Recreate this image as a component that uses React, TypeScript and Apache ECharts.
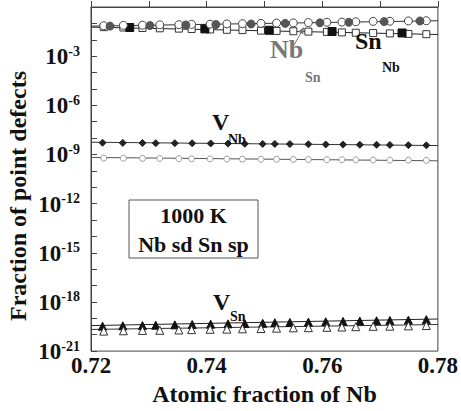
import React, { useEffect, useRef } from 'react';
import * as echarts from 'echarts';

// x positions (atomic fraction of Nb)
const X_OPEN = [0.7222, 0.7256, 0.7289, 0.7319, 0.7352, 0.7374, 0.7406, 0.7435, 0.7462, 0.7494, 0.7521, 0.755, 0.7576, 0.7608, 0.7634, 0.7658, 0.7688, 0.7717, 0.7749, 0.778];
const X_FILLED = [0.722, 0.7255, 0.7289, 0.7312, 0.7345, 0.7375, 0.7407, 0.7437, 0.7466, 0.7497, 0.7518, 0.7544, 0.7576, 0.7606, 0.7636, 0.7665, 0.7694, 0.7717, 0.7749, 0.778];
const X_FILLED_CIRCLES = [0.7233, 0.7302, 0.7364, 0.7416, 0.7477, 0.7536, 0.7596, 0.7646, 0.7707, 0.7769];
const X_FILLED_SQUARES = [0.7267, 0.7397, 0.7508, 0.7617, 0.7738];

// fractions of point defects
const NB_SN_OPEN = [0.0724, 0.0759, 0.0776, 0.0813, 0.0832, 0.0871, 0.0891, 0.0933, 0.0955, 0.1, 0.105, 0.107, 0.112, 0.117, 0.12, 0.126, 0.132, 0.135, 0.141, 0.145];
const NB_SN_FILLED = [0.068, 0.074, 0.08, 0.085, 0.092, 0.1, 0.108, 0.117, 0.128, 0.14];
const SN_NB_OPEN = [0.0589, 0.0562, 0.0525, 0.0501, 0.0479, 0.0457, 0.0427, 0.0407, 0.0389, 0.0363, 0.0347, 0.0331, 0.0316, 0.0302, 0.0282, 0.0269, 0.0257, 0.0245, 0.0229, 0.0219];
const SN_NB_FILLED = [0.056, 0.046, 0.038, 0.032, 0.026];
const V_NB_FILLED = [5.2e-9, 5.1e-9, 5.0e-9, 4.9e-9, 4.9e-9, 4.8e-9, 4.7e-9, 4.6e-9, 4.5e-9, 4.4e-9, 4.4e-9, 4.3e-9, 4.2e-9, 4.1e-9, 4.0e-9, 3.9e-9, 3.9e-9, 3.8e-9, 3.7e-9, 3.6e-9];
const V_NB_OPEN = [6.0e-10, 5.9e-10, 5.8e-10, 5.7e-10, 5.6e-10, 5.5e-10, 5.4e-10, 5.3e-10, 5.2e-10, 5.1e-10, 5.1e-10, 5.0e-10, 4.9e-10, 4.8e-10, 4.8e-10, 4.7e-10, 4.6e-10, 4.5e-10, 4.5e-10, 4.4e-10];
const V_SN_FILLED = [3.3e-20, 3.5e-20, 3.6e-20, 3.8e-20, 4.0e-20, 4.2e-20, 4.4e-20, 4.6e-20, 4.8e-20, 5.0e-20, 5.4e-20, 5.6e-20, 5.9e-20, 6.2e-20, 6.5e-20, 6.8e-20, 7.1e-20, 7.4e-20, 7.8e-20, 8.3e-20];
const V_SN_OPEN = [1.66e-20, 1.74e-20, 1.82e-20, 1.86e-20, 1.95e-20, 2.04e-20, 2.14e-20, 2.19e-20, 2.29e-20, 2.4e-20, 2.51e-20, 2.63e-20, 2.69e-20, 2.82e-20, 2.95e-20, 3.09e-20, 3.24e-20, 3.31e-20, 3.47e-20, 3.63e-20];

// fitted lines (end points at 0.72 and 0.78)
const FIT_X = [0.72, 0.78];
const FIT_NB_SN = [0.068, 0.145];
const FIT_SN_NB = [0.059, 0.021];
const FIT_V_NB_FILLED = [5.6e-9, 3.5e-9];
const FIT_V_NB_OPEN = [6.6e-10, 4.1e-10];
const FIT_V_SN_FILLED = [3.6e-20, 9.1e-20];
const FIT_V_SN_OPEN = [2.1e-20, 4.2e-20];

// tick labels
const X_LABELS = [0.72, 0.74, 0.76, 0.78];
const Y_LABEL_EXPONENTS = [-3, -6, -9, -12, -15, -18, -21];

const FONT = "'Liberation Serif', 'Times New Roman', serif";

const pairs = (xs: number[], ys: number[]) => xs.map((x, i) => [x, Math.log10(ys[i])]);

const App: React.FC = () => {
  const ref = useRef<HTMLDivElement>(null);

  useEffect(() => {
    document.body.style.margin = '0';
    if (!ref.current) return;
    const chart = echarts.init(ref.current, undefined, { renderer: 'svg' });

    const fit = (ys: number[], color: string) => ({
      type: 'line',
      data: pairs(FIT_X, ys),
      symbol: 'none',
      lineStyle: { color, width: 1 },
      z: 1,
      silent: true,
    });
    const scatter = (
      xs: number[],
      ys: number[],
      symbol: string,
      size: number,
      fill: string,
      border: string,
    ) => ({
      type: 'scatter',
      data: pairs(xs, ys),
      symbol,
      symbolSize: size,
      itemStyle: { color: fill, borderColor: border, borderWidth: 1, opacity: 1 },
      z: 3,
    });

    const txt = (
      x: number,
      y: number,
      text: string,
      size: number,
      color = '#111',
      align = 'left',
    ) => ({
      type: 'text',
      x,
      y,
      z: 10,
      style: {
        text,
        fontSize: size,
        fontWeight: 'bold',
        fontFamily: FONT,
        fill: color,
        align,
        verticalAlign: 'middle',
      },
    });

    chart.setOption({
      animation: false,
      backgroundColor: '#fff',
      grid: {
        left: 91,
        right: 23,
        top: 7,
        bottom: 54,
        show: true,
        borderColor: '#444',
        borderWidth: 1,
        backgroundColor: 'transparent',
      },
      xAxis: {
        type: 'value',
        min: 0.72,
        max: 0.78,
        interval: 0.01,
        name: 'Atomic fraction of Nb',
        nameLocation: 'middle',
        nameGap: 20,
        nameTextStyle: { fontSize: 24, fontWeight: 'bold', fontFamily: FONT, color: '#111' },
        axisLine: { lineStyle: { color: '#444', width: 1 } },
        axisTick: { inside: true, length: 6, lineStyle: { color: '#444' } },
        splitLine: { show: false },
        axisLabel: {
          margin: 3,
          fontSize: 23,
          fontWeight: 'bold',
          fontFamily: FONT,
          color: '#111',
          showMinLabel: true,
          showMaxLabel: true,
          formatter: (v: number) =>
            X_LABELS.some((l) => Math.abs(l - v) < 1e-6) ? v.toFixed(2) : '',
        },
      },
      yAxis: {
        type: 'value',
        min: -21,
        max: 0,
        interval: 1,
        axisLine: { lineStyle: { color: '#444', width: 1 } },
        axisTick: { inside: true, length: 6, lineStyle: { color: '#444' } },
        splitLine: { show: false },
        axisLabel: {
          margin: 11,
          showMinLabel: true,
          formatter: (v: number) => {
            const e = Math.round(v);
            return Y_LABEL_EXPONENTS.includes(e) ? `{b|10}{s|${e}}` : '';
          },
          rich: {
            b: {
              fontSize: 23,
              fontWeight: 'bold',
              fontFamily: FONT,
              color: '#111',
              lineHeight: 24,
              verticalAlign: 'bottom',
            },
            s: {
              fontSize: 14,
              fontWeight: 'bold',
              fontFamily: FONT,
              color: '#111',
              lineHeight: 24,
              verticalAlign: 'top',
            },
          },
        },
      },
      series: [
        fit(FIT_NB_SN, '#333'),
        fit(FIT_SN_NB, '#222'),
        fit(FIT_V_NB_FILLED, '#333'),
        fit(FIT_V_NB_OPEN, '#555'),
        fit(FIT_V_SN_FILLED, '#222'),
        fit(FIT_V_SN_OPEN, '#333'),
        scatter(X_OPEN, SN_NB_OPEN, 'rect', 7, '#fff', '#333'),
        scatter(X_FILLED_SQUARES, SN_NB_FILLED, 'rect', 8, '#111', '#111'),
        scatter(X_OPEN, NB_SN_OPEN, 'circle', 8, '#fff', '#444'),
        scatter(X_FILLED_CIRCLES, NB_SN_FILLED, 'circle', 8, '#555', '#555'),
        scatter(X_FILLED, V_NB_FILLED, 'diamond', 7, '#222', '#222'),
        scatter(X_OPEN, V_NB_OPEN, 'circle', 6, '#fff', '#999'),
        scatter(X_FILLED, V_SN_FILLED, 'triangle', 8, '#111', '#111'),
        scatter(X_OPEN, V_SN_OPEN, 'triangle', 8, '#fff', '#333'),
      ],
      graphic: [
        {
          type: 'text',
          x: 18,
          y: 196,
          rotation: Math.PI / 2,
          style: {
            text: 'Fraction of point defects',
            fontSize: 24,
            fontWeight: 'bold',
            fontFamily: FONT,
            fill: '#111',
            align: 'center',
            verticalAlign: 'middle',
          },
        },
        txt(270, 49, 'Nb', 26, '#777'),
        txt(305, 77, 'Sn', 14, '#777'),
        {
          type: 'line',
          z: 10,
          shape: { x1: 294, y1: 45, x2: 302, y2: 31 },
          style: { stroke: '#777', lineWidth: 1 },
        },
        {
          type: 'polygon',
          z: 10,
          shape: { points: [[304, 27], [303.2, 34.6], [298, 31.6]] },
          style: { fill: '#777' },
        },
        txt(355, 41, 'Sn', 24),
        txt(382, 67, 'Nb', 14),
        txt(212, 122, 'V', 24),
        txt(228, 139, 'Nb', 14),
        txt(213, 302, 'V', 24),
        txt(230, 316, 'Sn', 14),
        {
          type: 'rect',
          z: 9,
          shape: { x: 129, y: 200, width: 129, height: 58 },
          style: { fill: '#fff', stroke: '#555', lineWidth: 1 },
        },
        txt(193.5, 215, '1000 K', 22, '#111', 'center'),
        txt(193.5, 244, 'Nb sd Sn sp', 22, '#111', 'center'),
      ],
    });

    return () => chart.dispose();
  }, []);

  return <div ref={ref} style={{ width: 461, height: 411 }} />;
};

export default App;
